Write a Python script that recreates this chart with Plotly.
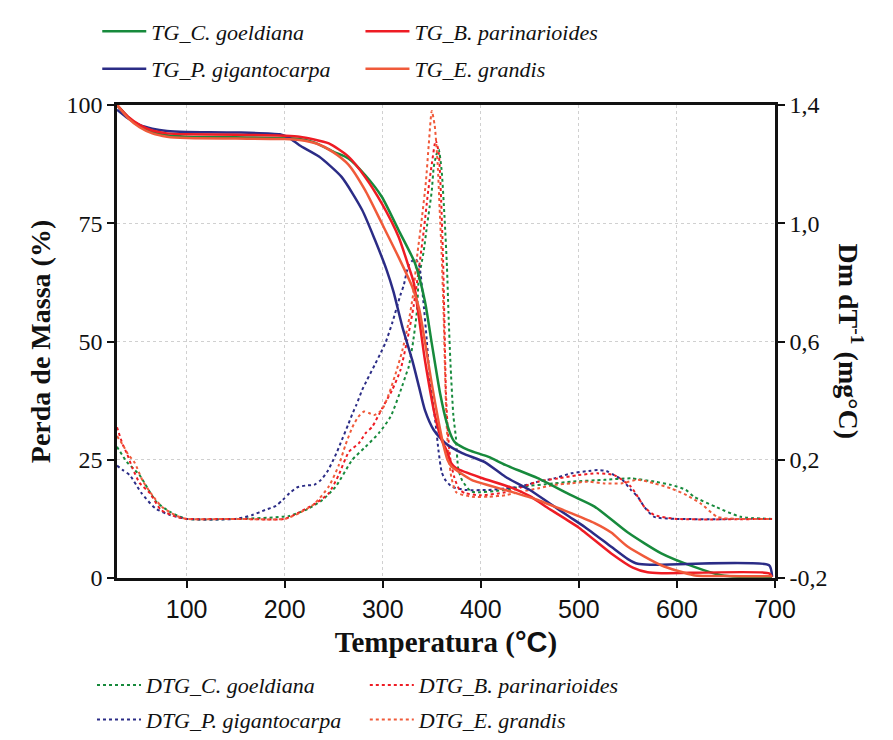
import plotly.graph_objects as go

# ---------------- TG data (mass %, left axis) ----------------
tg_goeldiana_T = [29, 40, 52, 65, 80, 100, 150, 200, 215, 230, 250, 265, 282, 299, 316, 333, 343, 350, 358.5, 365.4, 371, 374, 387, 408, 425, 458, 492, 516, 550, 584, 617, 645, 670, 697]
tg_goeldiana_V = [100, 97.5, 95.5, 94.3, 93.6, 93.3, 93.2, 93.0, 92.8, 92.1, 90.1, 88.7, 85.2, 80.6, 73.6, 66.5, 58.5, 49.6, 39.0, 32.7, 29.5, 28.6, 27.1, 25.6, 23.9, 21.1, 17.5, 15.1, 9.6, 5.2, 2.4, 0.6, 0.2, 0.1]

tg_parinarioides_T = [29, 40, 52, 65, 80, 100, 150, 200, 215, 245, 265, 282, 299, 316, 326.5, 331.5, 343, 353.5, 360, 365, 370, 375, 400, 430, 450, 470, 499, 533, 555, 570, 584, 694, 697]
tg_parinarioides_V = [100, 97.6, 95.8, 94.6, 94.0, 93.8, 93.7, 93.5, 93.3, 91.9, 89.1, 84.8, 79.2, 72.2, 65.8, 62.5, 46.1, 34.1, 29.2, 27.0, 24.2, 23.2, 21.2, 19.2, 17.3, 14.6, 10.8, 5.2, 2.2, 1.2, 1.0, 1.0, 0.2]

tg_gigantocarpa_T = [29, 40, 52, 65, 80, 100, 150, 195, 205, 215, 235, 258, 279, 292, 304, 311, 320, 330, 337, 343, 352, 364, 381, 404, 425, 450, 470, 490, 506, 533, 550, 560, 575, 694, 697]
tg_gigantocarpa_V = [99, 97.2, 95.8, 95.0, 94.5, 94.3, 94.2, 93.8, 93.0, 91.5, 89.1, 84.8, 77.8, 71.5, 65.1, 60.5, 53.1, 46.1, 40.4, 35.5, 31.3, 28.5, 26.4, 24.5, 21.4, 18.6, 15.8, 13.0, 10.8, 6.6, 4.0, 3.0, 2.8, 2.7, 0.3]

tg_grandis_T = [29, 40, 52, 65, 80, 100, 150, 200, 215, 233, 249, 265, 282, 299, 316, 330, 337, 343, 350, 357, 362, 366, 370, 380, 391, 425, 458, 492, 516, 533, 550, 584, 617, 650, 697]
tg_grandis_V = [100, 97.3, 95.3, 94.0, 93.3, 93.0, 92.9, 92.8, 92.6, 91.8, 90.1, 87.4, 82.0, 75.0, 67.9, 61.6, 57.0, 50.0, 41.0, 33.0, 28.0, 25.0, 23.6, 22.1, 20.7, 18.6, 16.5, 13.7, 11.6, 9.6, 6.6, 2.7, 0.6, 0.4, 0.4]

# ---------------- DTG data (right axis) ----------------
dtg_goeldiana_T = [29, 39, 52, 69, 83, 100, 150, 204.6, 225, 238.5, 252, 269, 282.5, 296, 308, 319.7, 323, 326.5, 331, 335, 336.6, 341.7, 345, 348, 350, 352, 354.5, 357, 360, 363, 365.5, 367, 369, 372, 374.5, 377, 381, 390.7, 424.6, 441.5, 475, 492, 526, 553, 577, 594, 609, 617.5, 640, 665, 697]
dtg_goeldiana_V = [0.244, 0.193, 0.148, 0.058, 0.024, 0.0, 0.0, 0.01, 0.036, 0.064, 0.109, 0.2, 0.244, 0.29, 0.346, 0.448, 0.481, 0.515, 0.6, 0.707, 0.808, 0.904, 0.988, 1.06, 1.11, 1.19, 1.23, 1.25, 1.18, 1.02, 0.85, 0.7, 0.53, 0.35, 0.278, 0.17, 0.13, 0.092, 0.098, 0.109, 0.12, 0.126, 0.132, 0.137, 0.126, 0.115, 0.098, 0.075, 0.04, 0.007, 0.0]

dtg_parinarioides_T = [29, 35, 39, 45, 52, 62.5, 74, 89.5, 100, 150, 200, 213, 231.7, 245, 255, 265.5, 275.7, 282.5, 289.3, 299.4, 309.6, 318, 326.5, 331.5, 337, 342, 346, 350, 354, 357, 359.5, 361.5, 363, 364.5, 366.5, 369, 373, 378, 384, 400, 425, 458.5, 478.8, 499, 519, 536, 553, 560, 566.6, 577, 600, 697]
dtg_parinarioides_V = [0.31, 0.25, 0.222, 0.17, 0.122, 0.087, 0.03, 0.007, 0.0, 0.0, 0.0, 0.019, 0.053, 0.087, 0.148, 0.227, 0.256, 0.29, 0.312, 0.374, 0.436, 0.503, 0.63, 0.72, 0.85, 0.98, 1.1, 1.2, 1.28, 1.24, 1.08, 0.88, 0.65, 0.42, 0.29, 0.2, 0.14, 0.1, 0.087, 0.08, 0.09, 0.126, 0.137, 0.148, 0.154, 0.148, 0.109, 0.075, 0.041, 0.013, 0.0, 0.0]

dtg_gigantocarpa_T = [29, 35, 42, 54, 68, 83, 100, 150, 167, 180, 191, 198, 205, 213, 222, 230, 237, 243.5, 248.6, 253, 257, 265, 269, 273, 279, 284, 292.6, 297.7, 302.8, 309.6, 318, 321.4, 326.5, 333, 337, 341, 345, 348.4, 353.5, 357, 360, 363.7, 370.5, 384, 407.6, 424.6, 441, 458.5, 475, 492, 510, 519, 528, 536, 545, 553, 560, 566.6, 576.7, 600, 697]
dtg_gigantocarpa_V = [0.18, 0.165, 0.148, 0.087, 0.036, 0.013, 0.0, 0.0, 0.013, 0.03, 0.044, 0.064, 0.087, 0.107, 0.113, 0.115, 0.132, 0.16, 0.193, 0.224, 0.256, 0.321, 0.355, 0.385, 0.436, 0.47, 0.526, 0.56, 0.596, 0.662, 0.757, 0.79, 0.859, 0.88, 0.86, 0.75, 0.6, 0.459, 0.334, 0.227, 0.16, 0.132, 0.109, 0.098, 0.098, 0.103, 0.11, 0.126, 0.137, 0.154, 0.162, 0.165, 0.162, 0.148, 0.13, 0.098, 0.075, 0.041, 0.007, 0.0, 0.0]

dtg_grandis_T = [29, 35, 40, 47, 55, 65, 75, 90, 100, 150, 200, 215, 230, 245, 255, 262, 269, 275, 281, 286, 291, 299, 306, 313, 320, 326, 331, 335, 340, 344, 347, 350, 353, 356, 358, 360, 362, 363.5, 365, 367, 370, 375, 391, 408, 425, 441, 458, 475, 492, 509, 526, 543, 560, 577, 594, 610, 625, 641, 660, 697]
dtg_grandis_V = [0.28, 0.25, 0.22, 0.19, 0.13, 0.08, 0.04, 0.01, 0.0, 0.0, 0.0, 0.02, 0.05, 0.11, 0.18, 0.25, 0.31, 0.345, 0.363, 0.358, 0.351, 0.368, 0.42, 0.49, 0.57, 0.66, 0.76, 0.887, 1.02, 1.14, 1.27, 1.38, 1.33, 1.2, 1.05, 0.9, 0.7, 0.5, 0.33, 0.22, 0.14, 0.09, 0.075, 0.075, 0.08, 0.092, 0.103, 0.115, 0.12, 0.126, 0.12, 0.12, 0.132, 0.12, 0.103, 0.08, 0.05, 0.007, 0.0, 0.0]

# ---------------- ticks ----------------
x_tickvals = [100, 200, 300, 400, 500, 600, 700]
tg_tickvals = [0, 25, 50, 75, 100]
dtg_tickvals = [-0.2, 0.2, 0.6, 1.0, 1.4]
dtg_ticktext = ["-0,2", "0,2", "0,6", "1,0", "1,4"]

GREEN = "#178a3c"
RED = "#ee1c24"
BLUE = "#2b2c86"
ORANGE = "#f05a3a"

SERIF = "Liberation Serif, Times New Roman, serif"
SANS = "Liberation Sans, Arial, sans-serif"

fig = go.Figure()

# DTG curves (dotted, right axis = primary 'y')
dtg = [
    ("DTG_<i>C. goeldiana</i>", dtg_goeldiana_T, dtg_goeldiana_V, GREEN, "legend3"),
    ("DTG_<i>P. gigantocarpa</i>", dtg_gigantocarpa_T, dtg_gigantocarpa_V, BLUE, "legend3"),
    ("DTG_<i>B. parinarioides</i>", dtg_parinarioides_T, dtg_parinarioides_V, RED, "legend4"),
    ("DTG_<i>E. grandis</i>", dtg_grandis_T, dtg_grandis_V, ORANGE, "legend4"),
]
for name, t, v, c, lg in dtg:
    fig.add_trace(go.Scatter(x=t, y=v, mode="lines", name=name, yaxis="y",
                             line=dict(color=c, width=2, dash="dot", shape="spline", smoothing=0.6),
                             legend=lg, legendgroup=name))

# TG curves (solid, left axis = overlaying 'y2')
tg = [
    ("TG_<i>C. goeldiana</i>", tg_goeldiana_T, tg_goeldiana_V, GREEN, "legend"),
    ("TG_<i>P. gigantocarpa</i>", tg_gigantocarpa_T, tg_gigantocarpa_V, BLUE, "legend"),
    ("TG_<i>B. parinarioides</i>", tg_parinarioides_T, tg_parinarioides_V, RED, "legend2"),
    ("TG_<i>E. grandis</i>", tg_grandis_T, tg_grandis_V, ORANGE, "legend2"),
]
for name, t, v, c, lg in tg:
    fig.add_trace(go.Scatter(x=t, y=v, mode="lines", name=name, yaxis="y2",
                             line=dict(color=c, width=2.5, shape="spline", smoothing=0.6),
                             legend=lg, legendgroup=name))

leg_font = dict(family=SERIF, size=22, color="#111111", style="italic")
common_leg = dict(orientation="v", xanchor="left", yanchor="top", bgcolor="rgba(0,0,0,0)",
                  borderwidth=0, font=leg_font, traceorder="grouped", itemwidth=44)

fig.update_layout(
    width=893, height=740,
    margin=dict(l=109, r=126, t=97, b=170, autoexpand=False),
    paper_bgcolor="white", plot_bgcolor="white",
    showlegend=True,
    legend=dict(x=-0.030, y=1.2, tracegroupgap=6, **common_leg),
    legend2=dict(x=0.370, y=1.2, tracegroupgap=6, **common_leg),
    legend3=dict(x=-0.038, y=-0.182, tracegroupgap=3, **common_leg),
    legend4=dict(x=0.3766, y=-0.182, tracegroupgap=3, **common_leg),
    xaxis=dict(
        range=[29, 700], tickvals=x_tickvals, ticks="outside", ticklen=7, tickwidth=2,
        tickcolor="#111", showline=True, linecolor="#111", linewidth=2.5, mirror=True,
        showgrid=True, gridcolor="#d0d0d0", griddash="dot", gridwidth=1, zeroline=False,
        tickfont=dict(family=SANS, size=25, color="#111"),
        title=dict(text="<b>Temperatura (<span style='font-family:Liberation Sans'>°C</span>)</b>",
                   font=dict(family=SERIF, size=29, color="#111"), standoff=10),
    ),
    yaxis=dict(
        side="right", range=[-0.2, 1.4], tickvals=dtg_tickvals, ticktext=dtg_ticktext,
        ticks="outside", ticklen=7, tickwidth=2, tickcolor="#111",
        showline=True, linecolor="#111", linewidth=2.5,
        showgrid=True, gridcolor="#d0d0d0", griddash="dot", gridwidth=1, zeroline=False,
        tickfont=dict(family=SERIF, size=24, color="#111"),
    ),
    yaxis2=dict(
        side="left", overlaying="y", range=[0, 100], tickvals=tg_tickvals,
        ticks="outside", ticklen=7, tickwidth=2, tickcolor="#111",
        showline=True, linecolor="#111", linewidth=2.5, showgrid=False, zeroline=False,
        tickfont=dict(family=SERIF, size=24, color="#111"),
        title=dict(text="<b>Perda de Massa (%)</b>", font=dict(family=SERIF, size=28, color="#111"), standoff=8),
    ),
    annotations=[dict(
        text="<b>Dm dT<sup>-1</sup> (mg°C)</b>", xref="paper", yref="paper",
        x=1.114, y=0.5, xanchor="center", yanchor="middle", textangle=90, showarrow=False,
        font=dict(family=SERIF, size=28, color="#111"),
    )],
)

fig.write_html("out.html")
